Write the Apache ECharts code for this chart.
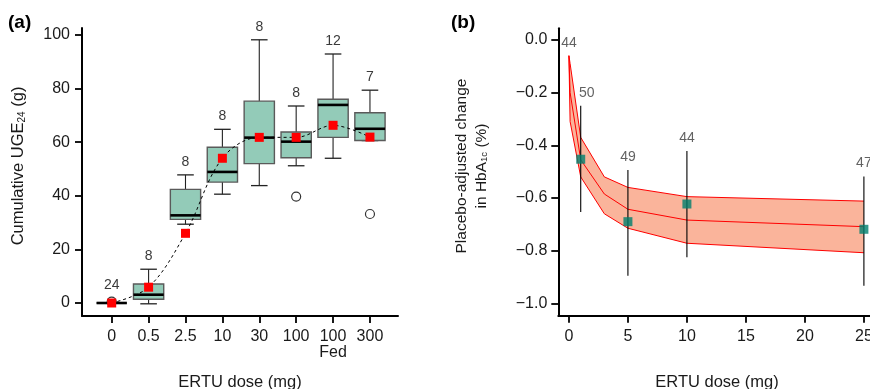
<!DOCTYPE html>
<html>
<head>
<meta charset="utf-8">
<script src="https://cdn.jsdelivr.net/npm/echarts@6/dist/echarts.min.js"></script>
<style>
html,body{margin:0;padding:0;background:#fff;}
#chart{width:870px;height:389px;}
</style>
</head>
<body>
<div id="chart"></div>
<script>
// ---------- Panel (a) data ----------
const categories = ['0', '0.5', '2.5', '10', '30', '100', '100\nFed', '300'];
const whiskerLow = [0, -0.3, 29.4, 40.6, 43.8, 51.2, 54.0, 60.6];
const quartile1 = [0, 1.4, 31.2, 45.1, 52.0, 54.2, 61.8, 60.6];
const medians = [0, 3.1, 32.7, 48.9, 61.7, 60.2, 73.9, 65.0];
const quartile3 = [0, 7.1, 42.4, 58.1, 75.3, 63.8, 76.0, 71.0];
const whiskerHigh = [0, 12.6, 47.8, 64.8, 98.2, 73.5, 92.9, 79.4];
const means = [0, 5.9, 26.0, 54.0, 61.8, 61.8, 66.3, 61.9];
const nSubjectsA = [24, 8, 8, 8, 8, 8, 12, 7];
const outlierCategory = [0, 5, 7];
const outlierValue = [0.5, 39.7, 33.2];
const yTicksA = [0, 20, 40, 60, 80, 100];

// ---------- Panel (b) data ----------
const doses = [1, 5, 10, 25];
const effect = [-0.453, -0.69, -0.623, -0.719];
const ciLow = [-0.653, -0.895, -0.825, -0.933];
const ciHigh = [-0.25, -0.494, -0.422, -0.519];
const nSubjectsB = [50, 49, 44, 47];
const placeboN = 44;
const modelDose = [0, 0.1, 1, 3, 5, 10, 25];
const modelUpper = [-0.06, -0.09, -0.37, -0.52, -0.56, -0.595, -0.612];
const modelMid = [-0.06, -0.2, -0.455, -0.585, -0.643, -0.684, -0.709];
const modelLower = [-0.06, -0.31, -0.52, -0.66, -0.715, -0.772, -0.808];
const xTicksB = [0, 5, 10, 15, 20, 25];
const yTicksB = [0, -0.2, -0.4, -0.6, -0.8, -1.0];

const FONT = '"Liberation Sans", Arial, Helvetica, sans-serif';
const TXT = '#1a1a1a';
const BOX_W = 0.82, CAP_W = 0.45;
const TICK_FS = 16, NAME_FS = 16.5, N_FS = 14;

const chart = echarts.init(document.getElementById('chart'), null, {renderer: 'canvas'});

function axisCommon() {
  return {
    axisLine: {show: true, onZero: false, lineStyle: {color: '#000', width: 2}},
    splitLine: {show: false},
    nameTextStyle: {fontFamily: FONT, fontSize: NAME_FS, color: TXT}
  };
}
const minus = v => (Math.abs(v) < 1e-9 ? '0.0' : v.toFixed(1).replace('-', '\u2212'));
const tick = vals => ({show: true, length: 7, customValues: vals, lineStyle: {color: '#000', width: 1.8}});

const boxData = categories.map((c, i) => [i, whiskerLow[i], quartile1[i], medians[i], quartile3[i], whiskerHigh[i], nSubjectsA[i]]);

const option = {
  animation: false,
  backgroundColor: '#fff',
  textStyle: {fontFamily: FONT},
  title: [
    {text: '(a)', left: 8, top: 13, padding: 0, textStyle: {fontFamily: FONT, fontSize: 19, fontWeight: 'bold', color: '#000'}},
    {text: '(b)', left: 451, top: 13, padding: 0, textStyle: {fontFamily: FONT, fontSize: 19, fontWeight: 'bold', color: '#000'}}
  ],
  grid: [
    {left: 82, top: 28, width: 316, height: 288, outerBoundsMode: 'none', containLabel: false},
    {left: 558.3, top: 28.3, width: 317.4, height: 287.4, outerBoundsMode: 'none', containLabel: false}
  ],
  xAxis: [
    Object.assign(axisCommon(), {
      gridIndex: 0, type: 'value', min: -0.805, max: 7.76,
      name: 'ERTU dose (mg)', nameLocation: 'middle', nameGap: 58,
      axisTick: tick(categories.map((c, i) => i)),
      axisLabel: {customValues: categories.map((c, i) => i), margin: 13, fontSize: TICK_FS, color: TXT, lineHeight: 16,
        formatter: v => categories[Math.round(v)]}
    }),
    Object.assign(axisCommon(), {
      gridIndex: 1, type: 'value', min: -0.9, max: 26,
      name: 'ERTU dose (mg)', nameLocation: 'middle', nameGap: 58,
      axisTick: tick(xTicksB),
      axisLabel: {customValues: xTicksB, margin: 13, fontSize: TICK_FS, color: TXT}
    })
  ],
  yAxis: [
    Object.assign(axisCommon(), {
      gridIndex: 0, type: 'value', min: -4.85, max: 102.6,
      name: 'Cumulative UGE{sub|24} (g)', nameLocation: 'middle', nameGap: 55,
      nameTextStyle: {fontFamily: FONT, fontSize: NAME_FS, color: TXT, padding: [0, 0, 0, 12],
        rich: {sub: {fontFamily: FONT, fontSize: 10, color: TXT, padding: [7, 0, 0, 0]}}},
      axisTick: tick(yTicksA),
      axisLabel: {customValues: yTicksA, margin: 12, fontSize: TICK_FS, color: TXT}
    }),
    Object.assign(axisCommon(), {
      gridIndex: 1, type: 'value', min: -1.047, max: 0.044,
      name: 'Placebo-adjusted change\nin HbA{sub|1c} (%)', nameLocation: 'middle', nameGap: 67,
      nameTextStyle: {fontFamily: FONT, fontSize: 15.5, color: TXT, lineHeight: 20, padding: [0, 0, 0, 12],
        rich: {sub: {fontFamily: FONT, fontSize: 9.5, color: TXT, padding: [7, 0, 0, 0]}}},
      axisTick: tick(yTicksB),
      axisLabel: {customValues: yTicksB, margin: 11, fontSize: TICK_FS, color: TXT, formatter: minus}
    })
  ],
  series: [
    // boxes
    {
      type: 'custom', xAxisIndex: 0, yAxisIndex: 0, z: 2,
      data: boxData,
      encode: {x: 0, y: [1, 2, 3, 4, 5]},
      renderItem: function (params, api) {
        const i = api.value(0);
        const hb = api.size([BOX_W, 0])[0] / 2;
        const hc = api.size([CAP_W, 0])[0] / 2;
        const pL = api.coord([i, api.value(1)]);
        const p1 = api.coord([i, api.value(2)]);
        const pm = api.coord([i, api.value(3)]);
        const p3 = api.coord([i, api.value(4)]);
        const pH = api.coord([i, api.value(5)]);
        const cx = pm[0];
        const line = (x1, y1, x2, y2, w, c) => ({type: 'line', shape: {x1, y1, x2, y2}, style: {stroke: c || '#222', lineWidth: w}});
        let topY = pH[1] - 13;
        outlierCategory.forEach((oc, k) => {
          if (oc === i && outlierValue[k] > api.value(5)) {
            topY = api.coord([i, outlierValue[k]])[1] - 17;
          }
        });
        return {
          type: 'group',
          children: [
            line(cx, p3[1], cx, pH[1], 1.1),
            line(cx, p1[1], cx, pL[1], 1.1),
            line(cx - hc, pH[1], cx + hc, pH[1], 1.3),
            line(cx - hc, pL[1], cx + hc, pL[1], 1.3),
            {type: 'rect', shape: {x: cx - hb, y: p3[1], width: 2 * hb, height: p1[1] - p3[1]},
              style: {fill: '#93cbb8', stroke: '#5a5a5a', lineWidth: 1.4}},
            line(cx - hb, pm[1], cx + hb, pm[1], 2.6, '#000'),
            {type: 'text', x: cx, y: topY, style: {text: String(api.value(6)), fontFamily: FONT, fontSize: N_FS,
              fill: '#3a3a3a', align: 'center', verticalAlign: 'middle'}}
          ]
        };
      }
    },
    // outliers
    {
      type: 'scatter', xAxisIndex: 0, yAxisIndex: 0, z: 3,
      symbol: 'circle', symbolSize: 9,
      itemStyle: {color: '#fff', borderColor: '#000', borderWidth: 1.2},
      data: outlierCategory.map((c, k) => [c, outlierValue[k]])
    },
    // mean trend line + red squares
    {
      type: 'line', xAxisIndex: 0, yAxisIndex: 0, z: 4,
      smooth: 0.35,
      symbol: 'rect', symbolSize: 9, showSymbol: true,
      itemStyle: {color: '#ff0000'},
      lineStyle: {color: '#000', width: 1, type: [3, 3]},
      data: means.map((m, i) => [i, m])
    },
    // panel b band
    {
      type: 'custom', xAxisIndex: 1, yAxisIndex: 1, z: 1,
      data: modelDose.map((d, i) => [d, modelUpper[i], modelLower[i]]),
      encode: {x: 0, y: [1, 2]},
      renderItem: function (params, api) {
        if (params.dataIndex !== 0) return null;
        const pts = [];
        for (let i = 0; i < modelDose.length; i++) pts.push(api.coord([modelDose[i], modelUpper[i]]));
        for (let i = modelDose.length - 1; i >= 0; i--) pts.push(api.coord([modelDose[i], modelLower[i]]));
        return {type: 'polygon', shape: {points: pts}, style: {fill: '#fab49b', stroke: 'none'}};
      }
    },
    {type: 'line', xAxisIndex: 1, yAxisIndex: 1, z: 2, showSymbol: false, symbol: 'none',
      lineStyle: {color: '#ff0000', width: 1}, data: modelDose.map((d, i) => [d, modelUpper[i]])},
    {type: 'line', xAxisIndex: 1, yAxisIndex: 1, z: 2, showSymbol: false, symbol: 'none',
      lineStyle: {color: '#ff0000', width: 1}, data: modelDose.map((d, i) => [d, modelMid[i]])},
    {type: 'line', xAxisIndex: 1, yAxisIndex: 1, z: 2, showSymbol: false, symbol: 'none',
      lineStyle: {color: '#ff0000', width: 1}, data: modelDose.map((d, i) => [d, modelLower[i]])},
    // error bars
    {
      type: 'custom', xAxisIndex: 1, yAxisIndex: 1, z: 3,
      data: doses.map((d, i) => [d, ciLow[i], ciHigh[i]]),
      encode: {x: 0, y: [1, 2]},
      renderItem: function (params, api) {
        const a = api.coord([api.value(0), api.value(1)]);
        const b = api.coord([api.value(0), api.value(2)]);
        return {type: 'line', shape: {x1: a[0], y1: a[1], x2: b[0], y2: b[1]}, style: {stroke: '#000', lineWidth: 1.1}};
      }
    },
    // points
    {
      type: 'scatter', xAxisIndex: 1, yAxisIndex: 1, z: 4,
      symbol: 'rect', symbolSize: 9,
      itemStyle: {color: '#00806e'},
      data: doses.map((d, i) => [d, effect[i]])
    },
    // n labels panel b
    {
      type: 'scatter', xAxisIndex: 1, yAxisIndex: 1, z: 5,
      symbolSize: 0, silent: true,
      label: {show: true, position: 'top', distance: 6, fontFamily: FONT, fontSize: N_FS, color: '#3a3a3a',
        formatter: p => String(p.value[2])},
      data: [[modelDose[0], modelUpper[0], placeboN]].concat(doses.map((d, i) => (
        i === 0 ? {value: [d, ciHigh[i], nSubjectsB[i]], label: {offset: [6, 0]}} : [d, ciHigh[i], nSubjectsB[i]]
      )))
    }
  ]
};
chart.setOption(option);
</script>
</body>
</html>
